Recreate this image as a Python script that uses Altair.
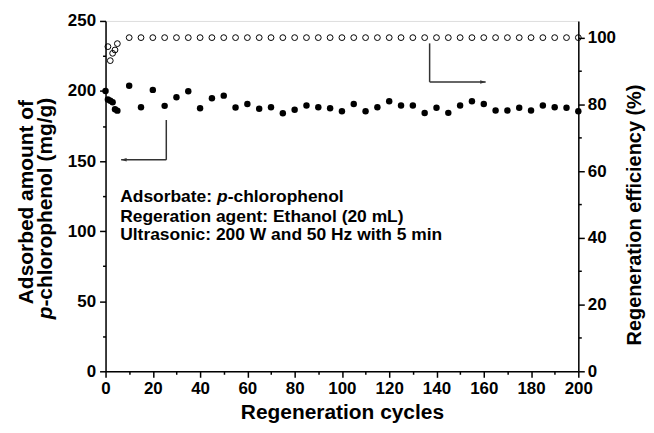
import altair as alt
import pandas as pd

# ---------------- data ----------------
cycles_amount = [0, 1, 2, 3, 4, 5,
                 10, 15, 20, 25, 30, 35, 40, 45, 50, 55,
                 60, 65, 70, 75, 80, 85, 90, 95, 100, 105,
                 110, 115, 120, 125, 130, 135, 140, 145, 150, 155,
                 160, 165, 170, 175, 180, 185, 190, 195, 200]
amount = [200.0, 194.0, 193.0, 192.0, 187.0, 186.0,
          203.8, 188.4, 200.8, 189.4, 195.5, 199.8, 187.7, 194.8, 196.7, 188.2,
          190.8, 187.3, 188.4, 184.2, 186.6, 189.6, 188.4, 187.7, 185.6, 190.8,
          185.6, 188.4, 192.7, 189.6, 189.6, 184.3, 188.0, 184.4, 189.6, 192.7,
          190.8, 186.1, 186.1, 188.0, 186.1, 189.6, 188.4, 188.0, 185.6]

cycles_eff = [1, 2, 3, 4, 5,
              10, 15, 20, 25, 30, 35, 40, 45, 50, 55,
              60, 65, 70, 75, 80, 85, 90, 95, 100, 105,
              110, 115, 120, 125, 130, 135, 140, 145, 150, 155,
              160, 165, 170, 175, 180, 185, 190, 195, 200]
efficiency = [97.3, 93.1, 95.3, 96.3, 98.2,
              100, 100, 100, 100, 100, 100, 100, 100, 100, 100,
              100, 100, 100, 100, 100, 100, 100, 100, 100, 100,
              100, 100, 100, 100, 100, 100, 100, 100, 100, 100,
              100, 100, 100, 100, 100, 100, 100, 100, 100]

# arrow segments (in x / left-axis units)
seg_x = [25.7, 25.7, 137.1, 137.1]
seg_x2 = [25.7, 6.6, 137.1, 160.8]
seg_y = [179.3, 150.9, 234.0, 206.5]
seg_y2 = [150.9, 150.9, 206.5, 206.5]
head_x = [6.6, 160.8]
head_y = [150.9, 206.5]
head_dir = ["left", "right"]

x_ticks = [0, 10, 20, 30, 40, 50, 60, 70, 80, 90, 100, 110, 120, 130, 140, 150,
           160, 170, 180, 190, 200]
left_ticks = [0, 25, 50, 75, 100, 125, 150, 175, 200, 225, 250]
right_ticks = [0, 10, 20, 30, 40, 50, 60, 70, 80, 90, 100]

x_title = "Regeneration cycles"
left_title_1 = "Adsorbed amount of"
left_title_2a = "p"
left_title_2b = "-chlorophenol (mg/g)"
right_title = "Regeneration efficiency (%)"
note_1a = "Adsorbate: "
note_1b = "p"
note_1c = "-chlorophenol"
note_2 = "Regeration agent: Ethanol (20 mL)"
note_3 = "Ultrasonic: 200 W and 50 Hz with 5 min"

FONT = "Liberation Sans"

df_a = pd.DataFrame({"cycle": cycles_amount, "amount": amount})
df_e = pd.DataFrame({"cycle": cycles_eff, "eff": efficiency})
df_seg = pd.DataFrame({"x": seg_x, "x2": seg_x2, "y": seg_y, "y2": seg_y2})
df_head = pd.DataFrame({"x": head_x, "y": head_y, "dir": head_dir})

xscale = alt.Scale(domain=[0, 200], nice=False, zero=False)
lscale = alt.Scale(domain=[0, 250], nice=False)
rscale = alt.Scale(domain=[0, 105], nice=False)

axis_common = dict(
    domainColor="black", domainWidth=1.5, tickColor="black", tickWidth=1.5,
    labelFont=FONT, labelFontWeight="bold", labelFontSize=17, labelColor="black",
    grid=False,
)

x_axis = alt.Axis(
    values=x_ticks, title=x_title, titleFont=FONT, titleFontSize=21,
    titleFontWeight="bold", titleColor="black", titlePadding=5,
    labelExpr="datum.value % 20 === 0 ? datum.label : ''",
    tickSize={"condition": {"test": "datum.value % 20 === 0", "value": 6}, "value": 3},
    labelPadding=3, labelFlush=False, labelOverlap=False,
    **axis_common,
)
left_axis = alt.Axis(
    orient="left", values=left_ticks, title=None,
    labelExpr="datum.value % 50 === 0 ? datum.label : ''",
    tickSize={"condition": {"test": "datum.value % 50 === 0", "value": 6}, "value": 3},
    labelPadding=4, labelOverlap=False,
    **axis_common,
)
right_axis = alt.Axis(
    orient="right", values=right_ticks, title=None,
    labelExpr="datum.value % 20 === 0 ? datum.label : ''",
    tickSize={"condition": {"test": "datum.value % 20 === 0", "value": 6}, "value": 3},
    labelPadding=3, labelOverlap=False,
    **axis_common,
)

filled = alt.Chart(df_a).mark_circle(size=42, color="black", opacity=1).encode(
    x=alt.X("cycle:Q", scale=xscale, axis=x_axis),
    y=alt.Y("amount:Q", scale=lscale, axis=left_axis),
)

rules = alt.Chart(df_seg).mark_rule(color="#333333", strokeWidth=1.5).encode(
    x=alt.X("x:Q", scale=xscale, axis=x_axis),
    x2="x2:Q",
    y=alt.Y("y:Q", scale=lscale, axis=left_axis),
    y2="y2:Q",
)

head_l = alt.Chart(df_head[df_head["dir"] == "left"]).mark_point(
    shape="M0,0L1,-0.32L1,0.32Z", filled=True, color="#333333", opacity=1, size=120
).encode(
    x=alt.X("x:Q", scale=xscale, axis=x_axis),
    y=alt.Y("y:Q", scale=lscale, axis=left_axis),
)
head_r = alt.Chart(df_head[df_head["dir"] == "right"]).mark_point(
    shape="M0,0L-1,-0.32L-1,0.32Z", filled=True, color="#333333", opacity=1, size=120
).encode(
    x=alt.X("x:Q", scale=xscale, axis=x_axis),
    y=alt.Y("y:Q", scale=lscale, axis=left_axis),
)

left_layer = alt.layer(filled, rules, head_l, head_r)

opened = alt.Chart(df_e).mark_point(
    shape="circle", filled=False, size=34, strokeWidth=1, color="black", opacity=1
).encode(
    x=alt.X("cycle:Q", scale=xscale, axis=x_axis),
    y=alt.Y("eff:Q", scale=rscale, axis=right_axis),
)

one = pd.DataFrame({"k": [0]})


def txt(text, x, y, size=17.5, style="normal", angle=0, align="left"):
    return alt.Chart(one).mark_text(
        text=text, font=FONT, fontSize=size, fontWeight="bold", fontStyle=style,
        color="black", align=align, baseline="alphabetic", angle=angle,
    ).encode(x=alt.value(x), y=alt.value(y))


texts = [
    txt(note_1a, 14.7, 181.7),
    txt(note_1b, 112, 181.7, style="italic"),
    txt(note_1c, 122.7, 181.7),
    txt(note_2, 14.7, 201.7),
    txt(note_3, 14.7, 220.5),
    txt(left_title_1, -73, 182, size=21, angle=270, align="center"),
    txt(left_title_2a, -54, 299.8, size=21, style="italic", angle=270),
    txt(left_title_2b, -54, 287.0, size=21, angle=270),
    txt(right_title, 538, 195, size=20, angle=270, align="center"),
]

chart = alt.layer(left_layer, opened, *texts).resolve_scale(y="independent").properties(
    width=475, height=352,
    autosize=alt.AutoSizeParams(type="none"),
    padding={"left": 98, "top": 12, "right": 68, "bottom": 61},
).configure_view(stroke="black", strokeWidth=1.5).configure(background="white")

chart.save("out.html", embed_options={"renderer": "svg", "actions": False})
